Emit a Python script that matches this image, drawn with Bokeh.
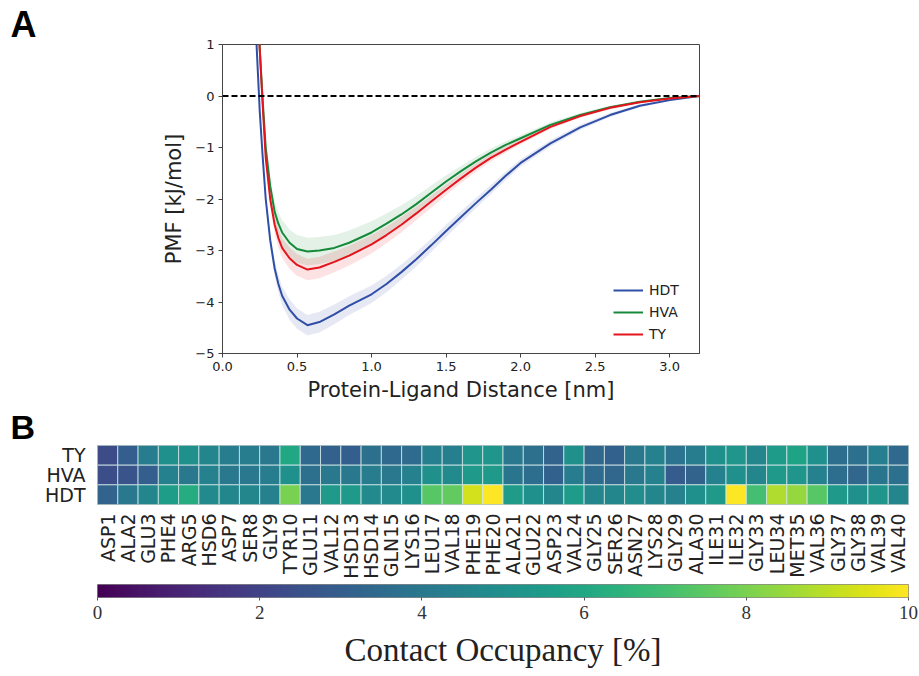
import math
import numpy as np
from bokeh.plotting import figure
from bokeh.models import (ColumnDataSource, FactorRange, LinearColorMapper,
                          Legend, LegendItem, Span, FixedTicker, Range1d)
from bokeh.palettes import Viridis256
from bokeh.embed import file_html
from bokeh.resources import INLINE

# ---------------- Panel A data ----------------
dist = [0.21, 0.23, 0.25, 0.27, 0.29, 0.32, 0.35, 0.375, 0.40, 0.45, 0.50, 0.57, 0.65, 0.75,
        0.85, 1.00, 1.10, 1.20, 1.30, 1.40, 1.50, 1.60, 1.70, 1.80, 1.90, 2.00, 2.20, 2.40,
        2.60, 2.80, 3.00, 3.20]
pmf_hdt = [2.5, 0.9, -0.3, -1.2, -2.0, -2.8, -3.35, -3.65, -3.88, -4.15, -4.32, -4.45, -4.39,
           -4.24, -4.07, -3.85, -3.65, -3.42, -3.17, -2.90, -2.62, -2.35, -2.08, -1.82, -1.55,
           -1.30, -0.92, -0.61, -0.37, -0.19, -0.08, 0.0]
pmf_hva = [4.0, 2.2, 0.9, -0.1, -1.0, -1.75, -2.25, -2.48, -2.65, -2.85, -2.97, -3.02, -3.00,
           -2.95, -2.85, -2.65, -2.48, -2.30, -2.10, -1.88, -1.66, -1.46, -1.27, -1.10, -0.95,
           -0.82, -0.56, -0.37, -0.22, -0.11, -0.04, 0.0]
pmf_ty = [4.0, 2.2, 0.9, -0.2, -1.2, -2.0, -2.5, -2.76, -2.95, -3.15, -3.28, -3.37, -3.33,
          -3.22, -3.10, -2.88, -2.70, -2.50, -2.28, -2.05, -1.82, -1.60, -1.39, -1.20, -1.04,
          -0.89, -0.60, -0.39, -0.23, -0.12, -0.05, 0.0]
err_hdt = [0.05, 0.05, 0.05, 0.08, 0.10, 0.12, 0.15, 0.17, 0.18, 0.20, 0.20, 0.20, 0.20, 0.19,
           0.18, 0.17, 0.16, 0.15, 0.14, 0.13, 0.12, 0.11, 0.10, 0.09, 0.08, 0.07, 0.06, 0.05,
           0.04, 0.03, 0.02, 0.01]
err_hva = [0.05, 0.05, 0.05, 0.08, 0.12, 0.16, 0.20, 0.22, 0.24, 0.26, 0.27, 0.27, 0.26, 0.25,
           0.24, 0.22, 0.20, 0.18, 0.16, 0.14, 0.12, 0.10, 0.09, 0.08, 0.07, 0.06, 0.05, 0.04,
           0.03, 0.02, 0.02, 0.01]
err_ty = [0.05, 0.05, 0.05, 0.08, 0.10, 0.13, 0.16, 0.18, 0.19, 0.21, 0.21, 0.21, 0.21, 0.20,
          0.19, 0.18, 0.16, 0.15, 0.13, 0.12, 0.10, 0.09, 0.08, 0.07, 0.06, 0.05, 0.04, 0.03,
          0.03, 0.02, 0.01, 0.01]

series_names = ["HDT", "HVA", "TY"]
series_colors = ["#2f4ea6", "#16893a", "#e3141c"]

# ---------------- Panel B data ----------------
residues = ["ASP1", "ALA2", "GLU3", "PHE4", "ARG5", "HSD6", "ASP7", "SER8", "GLY9", "TYR10",
            "GLU11", "VAL12", "HSD13", "HSD14", "GLN15", "LYS16", "LEU17", "VAL18", "PHE19",
            "PHE20", "ALA21", "GLU22", "ASP23", "VAL24", "GLY25", "SER26", "ASN27", "LYS28",
            "GLY29", "ALA30", "ILE31", "ILE32", "GLY33", "LEU34", "MET35", "VAL36", "GLY37",
            "GLY38", "VAL39", "VAL40"]
rows = ["HDT", "HVA", "TY"]
occ_ty = [2.3, 3.0, 4.2, 5.0, 5.0, 4.6, 4.2, 4.2, 4.0, 6.0, 3.4, 3.1, 3.0, 3.7, 3.4, 3.5, 4.3,
          4.3, 5.2, 5.2, 4.0, 3.7, 3.2, 5.0, 3.3, 3.1, 4.0, 4.4, 3.8, 4.2, 5.0, 5.2, 4.6, 5.5,
          5.8, 5.0, 3.6, 3.7, 4.3, 3.4]
occ_hva = [2.4, 2.6, 3.0, 4.4, 4.0, 4.4, 4.0, 4.0, 4.2, 5.0, 3.7, 4.0, 4.0, 4.2, 4.0, 4.4, 5.0,
           4.8, 5.4, 5.4, 3.9, 3.6, 3.1, 4.2, 3.5, 3.3, 4.0, 4.4, 2.9, 3.2, 4.4, 5.0, 4.6, 5.4,
           5.2, 4.4, 3.6, 3.3, 3.9, 3.7]
occ_hdt = [3.2, 4.0, 4.6, 5.6, 6.2, 4.8, 4.6, 4.6, 4.4, 8.0, 4.0, 5.4, 5.4, 4.8, 4.8, 5.0, 7.4,
           7.6, 9.3, 10.0, 5.5, 5.0, 4.6, 5.5, 4.6, 4.6, 4.9, 4.6, 4.4, 5.0, 5.4, 10.0, 7.0, 8.8,
           8.4, 7.4, 5.4, 5.0, 5.2, 4.6]
cbar_ticks = [0, 2, 4, 6, 8, 10]

SANS = "DejaVu Sans"
SERIF = "Liberation Serif"
AXC = "#444444"
TXT = "#222222"
W = 919


def panel_letter(p, letter, offset, size):
    p.title.text = letter
    p.title.align = "left"
    p.title.offset = offset
    p.title.standoff = 0
    p.title.text_font = "Liberation Sans"
    p.title.text_font_size = size
    p.title.text_font_style = "bold"
    p.title.text_color = "black"


# ================= Panel A =================
pA = figure(width=W, height=404, x_range=Range1d(0, 3.2), y_range=Range1d(-5, 1),
            output_backend="svg", toolbar_location=None,
            min_border_left=222, min_border_right=220, min_border_top=44, min_border_bottom=49)
pA.grid.visible = False
pA.outline_line_color = AXC
pA.outline_line_width = 1
panel_letter(pA, "A", -212, "36px")

renderers = []
for name, col, ys, es in zip(series_names, series_colors,
                             [pmf_hdt, pmf_hva, pmf_ty], [err_hdt, err_hva, err_ty]):
    lo = [y - e for y, e in zip(ys, es)]
    hi = [y + e for y, e in zip(ys, es)]
    pA.varea(x=dist, y1=lo, y2=hi, fill_color=col, fill_alpha=0.12)
for name, col, ys in zip(series_names, series_colors, [pmf_hdt, pmf_hva, pmf_ty]):
    r = pA.line(dist, ys, line_color=col, line_width=2)
    renderers.append((name, r))

pA.add_layout(Span(location=0, dimension="width", line_color="black", line_width=2,
                   line_dash="6 3"))

xt = [0, 0.5, 1.0, 1.5, 2.0, 2.5, 3.0]
pA.xaxis.ticker = FixedTicker(ticks=xt)
pA.xaxis.major_label_overrides = {t: f"{t:.1f}" for t in xt}
yt = [-5, -4, -3, -2, -1, 0, 1]
pA.yaxis.ticker = FixedTicker(ticks=yt)
pA.yaxis.major_label_overrides = {t: (str(t) if t >= 0 else "\u2212" + str(-t)) for t in yt}
for ax in (pA.xaxis[0], pA.yaxis[0]):
    ax.axis_line_color = AXC
    ax.major_tick_line_color = AXC
    ax.major_tick_out = 4
    ax.major_tick_in = 0
    ax.minor_tick_line_color = None
    ax.major_label_text_font = SANS
    ax.major_label_text_font_size = "13px"
    ax.major_label_text_color = TXT
    ax.axis_label_text_font = SANS
    ax.axis_label_text_font_size = "21px"
    ax.axis_label_text_font_style = "normal"
    ax.axis_label_text_color = TXT
pA.xaxis.axis_label = "Protein-Ligand Distance [nm]"
pA.yaxis.axis_label = "PMF [kJ/mol]"
pA.xaxis.major_label_standoff = 4
pA.xaxis.axis_label_standoff = 4
pA.yaxis.major_label_standoff = 4
pA.yaxis.axis_label_standoff = 6

legend = Legend(items=[LegendItem(label=n, renderers=[r]) for n, r in renderers],
                location=(391, 10))
legend.border_line_color = None
legend.background_fill_alpha = 0
legend.label_text_font = SANS
legend.label_text_font_size = "14px"
legend.label_text_color = TXT
legend.glyph_width = 30
legend.glyph_height = 18
legend.label_height = 18
legend.spacing = 4
legend.padding = 4
legend.margin = 0
legend.label_standoff = 6
pA.add_layout(legend)

# ================= Panel B (heatmap) =================
mapper = LinearColorMapper(palette=Viridis256, low=0, high=10)
xs, ys_, vs = [], [], []
for rname, vals in zip(["TY", "HVA", "HDT"], [occ_ty, occ_hva, occ_hdt]):
    for res, v in zip(residues, vals):
        xs.append(res)
        ys_.append(rname)
        vs.append(v)
src = ColumnDataSource(dict(res=xs, row=ys_, val=vs))

pB = figure(width=W, height=177, x_range=FactorRange(factors=residues),
            y_range=FactorRange(factors=rows), output_backend="svg", toolbar_location=None,
            min_border_left=97, min_border_right=11, min_border_top=41, min_border_bottom=73)
pB.grid.visible = False
pB.outline_line_color = "#9aa8aa"
panel_letter(pB, "B", -87, "34px")
pB.rect(x="res", y="row", width=1, height=1, source=src,
        fill_color={"field": "val", "transform": mapper},
        line_color="#cfe6e6", line_width=1, line_alpha=0.8)
for ax in (pB.xaxis[0], pB.yaxis[0]):
    ax.axis_line_color = None
    ax.major_tick_line_color = None
    ax.minor_tick_line_color = None
    ax.major_label_text_font = SANS
    ax.major_label_text_font_size = "19px"
    ax.major_label_text_color = TXT
pB.xaxis.major_label_orientation = math.pi / 2
pB.xaxis.major_label_standoff = 3
pB.yaxis.major_label_standoff = 6

# ================= Colorbar =================
pC = figure(width=W, height=93, x_range=Range1d(0, 10), y_range=Range1d(0, 1),
            output_backend="svg", toolbar_location=None,
            min_border_left=97, min_border_right=11, min_border_top=3, min_border_bottom=77)
pC.grid.visible = False
pC.outline_line_color = "#888888"
grad = np.linspace(0, 10, 512).reshape(1, -1)
pC.image(image=[grad], x=0, y=0, dw=10, dh=1, color_mapper=mapper)
pC.yaxis.visible = False
pC.xaxis.ticker = FixedTicker(ticks=cbar_ticks)
pC.xaxis.major_label_overrides = {t: str(t) for t in cbar_ticks}
pC.xaxis.axis_line_color = None
pC.xaxis.major_tick_line_color = "#555555"
pC.xaxis.major_tick_out = 3
pC.xaxis.major_tick_in = 0
pC.xaxis.minor_tick_line_color = None
pC.xaxis.major_label_text_font = SERIF
pC.xaxis.major_label_text_font_size = "19px"
pC.xaxis.major_label_text_color = "#333333"
pC.xaxis.major_label_standoff = 5
pC.xaxis.axis_label = "Contact Occupancy [%]"
pC.xaxis.axis_label_text_font = SERIF
pC.xaxis.axis_label_text_font_size = "33px"
pC.xaxis.axis_label_text_font_style = "normal"
pC.xaxis.axis_label_text_color = "#222222"
pC.xaxis.axis_label_standoff = 10

open("out.html", "w").write(file_html([pA, pB, pC], INLINE))
